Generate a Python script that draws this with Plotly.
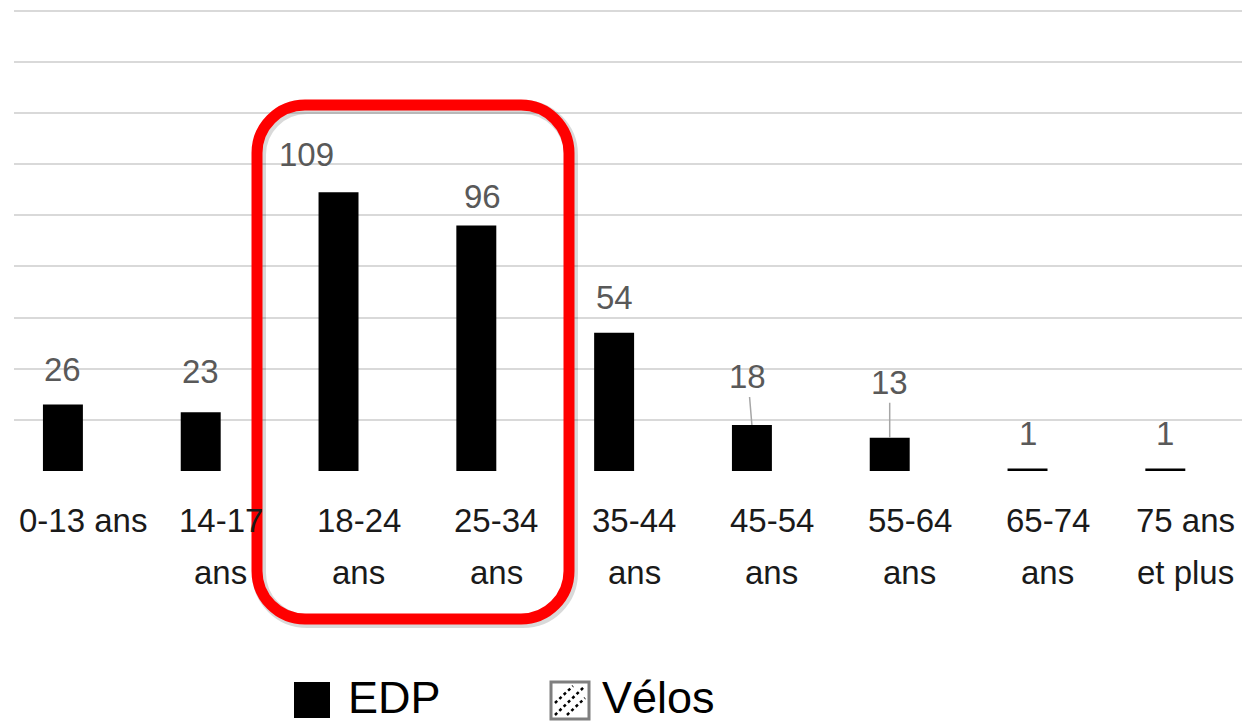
import plotly.graph_objects as go

# ---------------- data ----------------
categories = ["0-13 ans", "14-17<br>ans", "18-24<br>ans", "25-34<br>ans", "35-44<br>ans",
              "45-54<br>ans", "55-64<br>ans", "65-74<br>ans", "75 ans<br>et plus"]
edp = [26, 23, 109, 96, 54, 18, 13, 1, 1]
velos = [0, 0, 0, 0, 0, 0, 0, 0, 0]
series_names = ["EDP", "Vélos"]

# ---------------- style / layout ----------------
W, H = 1242, 724
ML, MR, MT, MB = 14, 0, 8, 253
PLOT_W = W - ML - MR
PLOT_H = H - MT - MB
BASE_PX = MT + PLOT_H
CAT_PX = 137.8
FONT = "Liberation Sans, Arial, sans-serif"
LABEL_GRAY = "#595959"

def pxx(px):
    return (px - ML) / PLOT_W

def pxy(py):
    return (BASE_PX - py) / PLOT_H

# label offsets (xshift, yshift in px above bar top), leader-line flags
label_style = {
    1: (0, 41, False),
    2: (-32, 38, False),
    3: (6, 29, False),
    5: (-4, 48, True),
    6: (0, 55, True),
}
DEFAULT_LABEL = (0, 35, False)
EDP_OFFSET_PX = -20

fig = go.Figure()
xs = list(range(len(categories)))
fig.add_trace(go.Bar(x=xs, y=edp, name=series_names[0], marker=dict(color="black", line=dict(width=0)),
                     showlegend=False, hoverinfo="x+y"))
fig.add_trace(go.Bar(x=xs, y=velos, name=series_names[1],
                     marker=dict(color="white", line=dict(width=0),
                                 pattern=dict(shape="/", fgcolor="black", bgcolor="white")),
                     showlegend=False))

annotations = []
# data labels
for i, v in enumerate(edp):
    dx, dy, leader = label_style.get(i, DEFAULT_LABEL)
    if leader:
        annotations.append(dict(x=i, y=v, xref="x", yref="y", text=str(v), showarrow=True,
                                ax=dx, ay=-dy, arrowhead=0, arrowwidth=1.5, arrowcolor="#a6a6a6",
                                standoff=0, xshift=EDP_OFFSET_PX,
                                font=dict(family=FONT, size=33, color=LABEL_GRAY)))
    else:
        annotations.append(dict(x=i, y=v, xref="x", yref="y", text=str(v), showarrow=False,
                                xshift=EDP_OFFSET_PX + dx, yshift=dy, yanchor="middle",
                                font=dict(family=FONT, size=33, color=LABEL_GRAY)))

# category labels (two rows)
for i, c in enumerate(categories):
    lines = c.split("<br>")
    for k, line in enumerate(lines):
        annotations.append(dict(x=i, xref="x", y=pxy(520 + 52 * k), yref="paper", text=line,
                                showarrow=False, xanchor="center", yanchor="middle",
                                font=dict(family=FONT, size=33, color="#1a1a1a")))

# legend (manual, large symbols)
LEG_Y = 697
annotations.append(dict(x=pxx(346), y=pxy(LEG_Y), xref="paper", yref="paper", text=series_names[0],
                        showarrow=False, xanchor="left", yanchor="middle",
                        font=dict(family=FONT, size=45, color="black")))
annotations.append(dict(x=pxx(600), y=pxy(LEG_Y), xref="paper", yref="paper", text=series_names[1],
                        showarrow=False, xanchor="left", yanchor="middle",
                        font=dict(family=FONT, size=45, color="black")))

shapes = []
# legend symbols
shapes.append(dict(type="rect", xref="paper", yref="paper", x0=pxx(294), x1=pxx(330),
                   y0=pxy(718), y1=pxy(682), fillcolor="black", line=dict(width=0)))
bx0, bx1, by0, by1 = 551, 589, 682, 719
shapes.append(dict(type="rect", xref="paper", yref="paper", x0=pxx(bx0), x1=pxx(bx1),
                   y0=pxy(by1), y1=pxy(by0), fillcolor="white", line=dict(color="#7f7f7f", width=3)))
for off in (-12, 0, 12):
    sx0, sy0 = bx0 + 4 + max(0, off), by1 - 4 - max(0, -off)
    sx1, sy1 = bx1 - 4 - max(0, -off), by0 + 4 + max(0, off)
    shapes.append(dict(type="line", xref="paper", yref="paper", x0=pxx(sx0), y0=pxy(sy0),
                       x1=pxx(sx1), y1=pxy(sy1), line=dict(color="black", width=2.5, dash="dot")))

# red rounded highlight box
def rounded_path(l, t, r, b, rad):
    k = 0.5523 * rad
    pts = [
        f"M {pxx(l + rad)},{pxy(t)}",
        f"L {pxx(r - rad)},{pxy(t)}",
        f"C {pxx(r - rad + k)},{pxy(t)} {pxx(r)},{pxy(t + rad - k)} {pxx(r)},{pxy(t + rad)}",
        f"L {pxx(r)},{pxy(b - rad)}",
        f"C {pxx(r)},{pxy(b - rad + k)} {pxx(r - rad + k)},{pxy(b)} {pxx(r - rad)},{pxy(b)}",
        f"L {pxx(l + rad)},{pxy(b)}",
        f"C {pxx(l + rad - k)},{pxy(b)} {pxx(l)},{pxy(b - rad + k)} {pxx(l)},{pxy(b - rad)}",
        f"L {pxx(l)},{pxy(t + rad)}",
        f"C {pxx(l)},{pxy(t + rad - k)} {pxx(l + rad - k)},{pxy(t)} {pxx(l + rad)},{pxy(t)}",
        "Z",
    ]
    return " ".join(pts)

shapes.append(dict(type="path", xref="paper", yref="paper", layer="above",
                   path=rounded_path(259, 107, 571, 621, 48),
                   line=dict(color="rgba(0,0,0,0.15)", width=14)))
shapes.append(dict(type="path", xref="paper", yref="paper", layer="above",
                   path=rounded_path(257, 105, 569, 619, 48),
                   line=dict(color="#ff0000", width=11)))

fig.update_layout(
    width=W, height=H,
    margin=dict(l=ML, r=MR, t=MT, b=MB, pad=0),
    paper_bgcolor="white", plot_bgcolor="white",
    barmode="group", bargap=0.42, bargroupgap=0,
    showlegend=False,
    xaxis=dict(range=[-0.5, -0.5 + PLOT_W / CAT_PX], showticklabels=False, showgrid=False,
               zeroline=False, showline=False, ticks="", fixedrange=True),
    yaxis=dict(range=[0, PLOT_H / 2.5583], tickvals=[0, 20, 40, 60, 80, 100, 120, 140, 160, 180],
               showticklabels=False, showgrid=True, gridcolor="#d9d9d9", gridwidth=2,
               zeroline=False, showline=False, ticks=""),
    annotations=annotations,
    shapes=shapes,
)

fig.write_html("out.html", config={"displayModeBar": False},
               post_script="document.body.style.margin='0';document.body.style.overflow='hidden';")
